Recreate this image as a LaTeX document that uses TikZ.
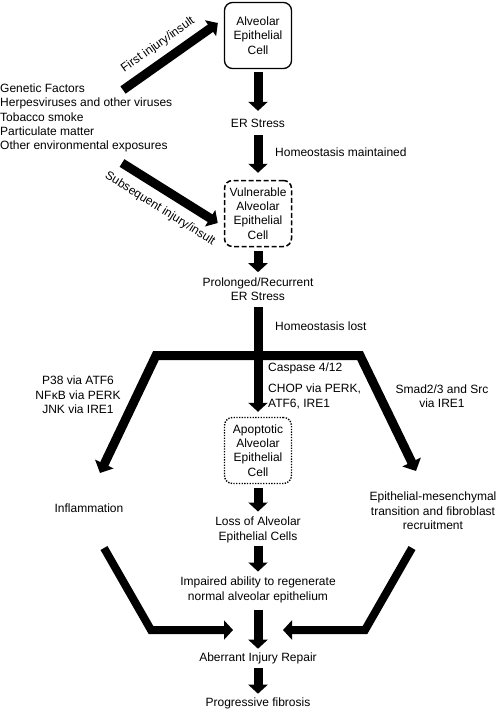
\documentclass[tikz,border=0pt]{standalone}
\usepackage{fontspec}
\setmainfont{Liberation Sans}
\usetikzlibrary{arrows.meta,calc}
\begin{document}
\begin{tikzpicture}[x=1pt,y=-1pt,
  txt/.style={font=\fontsize{12}{14.4}\selectfont, align=center, inner sep=0pt},
  cellbox/.style={txt, draw, rounded corners=8pt, line width=1.3pt, minimum width=67pt, minimum height=66pt},
  bigarrow/.style={line width=9pt, -{Triangle[width=19pt,length=9pt]}},
  sidearrow/.style={line width=8pt, line join=miter, -{Triangle[width=19pt,length=9pt]}}
]
\useasboundingbox (0,0) rectangle (498,710);

% cells and stages
\node[cellbox] (aec) at (258,35.5) {Alveolar\\Epithelial\\Cell};
\node[txt] (er1) at (258,123) {ER Stress};
\node[cellbox, dash pattern=on 5pt off 2.5pt, line width=1.5pt] (vul) at (258,213.5) {Vulnerable\\Alveolar\\Epithelial\\Cell};
\node[txt] (prol) at (258,289) {Prolonged/Recurrent\\ER Stress};
\node[cellbox, dash pattern=on 1.3pt off 1.4pt, line width=1.4pt] (apo) at (258,450.5) {Apoptotic\\Alveolar\\Epithelial\\Cell};
\node[txt] (loss) at (258,530) {Loss of Alveolar\\Epithelial Cells};
\node[txt] (imp) at (258,590) {Impaired ability to regenerate\\normal alveolar epithelium};
\node[txt] (abr) at (258,658) {Aberrant Injury Repair};
\node[txt] (prog) at (258,703) {Progressive fibrosis};
\node[txt] (infl) at (89,508) {Inflammation};
\node[txt] (emt) at (433,511) {Epithelial-mesenchymal\\transition and fibroblast\\recruitment};

% side texts
\node[txt, align=left, anchor=west] (fac) at (0,118) {Genetic Factors\\Herpesviruses and other viruses\\Tobacco smoke\\Particulate matter\\Other environmental exposures};
\node[txt, anchor=west] (hm) at (275,152) {Homeostasis maintained};
\node[txt, anchor=west] (hl) at (275,326) {Homeostasis lost};
\node[txt, anchor=west] (casp) at (268,368) {Caspase 4/12};
\node[txt, align=left, anchor=west] (chop) at (268,396.5) {CHOP via PERK,\\ATF6, IRE1};
\node[txt] (p38) at (78,395) {P38 via ATF6\\NF\kern0.5pt κB via PERK\\JNK via IRE1};
\node[txt] (smad) at (442,396.5) {Smad2/3 and Src\\via IRE1};

% vertical arrows
\draw[bigarrow, shorten <=3pt, shorten >=7.7pt] (aec) -- (er1);
\draw[bigarrow, shorten <=7.7pt, shorten >=7pt] (er1) -- (vul);
\draw[bigarrow, shorten <=4pt, shorten >=5pt] (vul) -- (prol);
\draw[bigarrow, shorten <=6.5pt, shorten >=5pt] (prol) -- (apo);
\draw[bigarrow, shorten <=4pt, shorten >=5.5pt] (apo) -- (loss);
\draw[bigarrow, shorten <=3.2pt, shorten >=5.5pt] (loss) -- (imp);
\draw[bigarrow, shorten <=7pt, shorten >=3.5pt] (imp) -- (abr);
\draw[bigarrow, shorten <=4pt, shorten >=3.5pt] (abr) -- (prog);

% injury arrows
\coordinate (f1s) at (123,90);
\coordinate (f2s) at (122,163);
\draw[bigarrow] (f1s) -- ($(aec.west)+(-6,-12.5)$)
  node[txt, pos=0.47, sloped, above=6.5pt] {First injury/insult};
\draw[bigarrow] (f2s) -- ($(vul.west)+(-6,9.5)$)
  node[txt, pos=0.5, sloped, below=8.5pt] {Subsequent injury/insult};

% branching
\coordinate (bl) at (156,355.5);
\coordinate (br) at (360,355.5);
\coordinate (tl) at (100,473);
\coordinate (tr) at (416,471);
\draw[line width=9pt, line join=miter, {Triangle[width=20pt,length=10pt]}-{Triangle[width=20pt,length=10pt]}]
  (tl) -- (bl) -- (br) -- (tr);

% converging arrows
\coordinate (ls) at (104,548);
\coordinate (lc) at (151,630);
\coordinate (lt) at (233,630);
\coordinate (rs) at (412,548);
\coordinate (rc) at (365,630);
\coordinate (rt) at (283,630);
\draw[sidearrow] (ls) -- (lc) -- (lt);
\draw[sidearrow] (rs) -- (rc) -- (rt);
\end{tikzpicture}
\end{document}
